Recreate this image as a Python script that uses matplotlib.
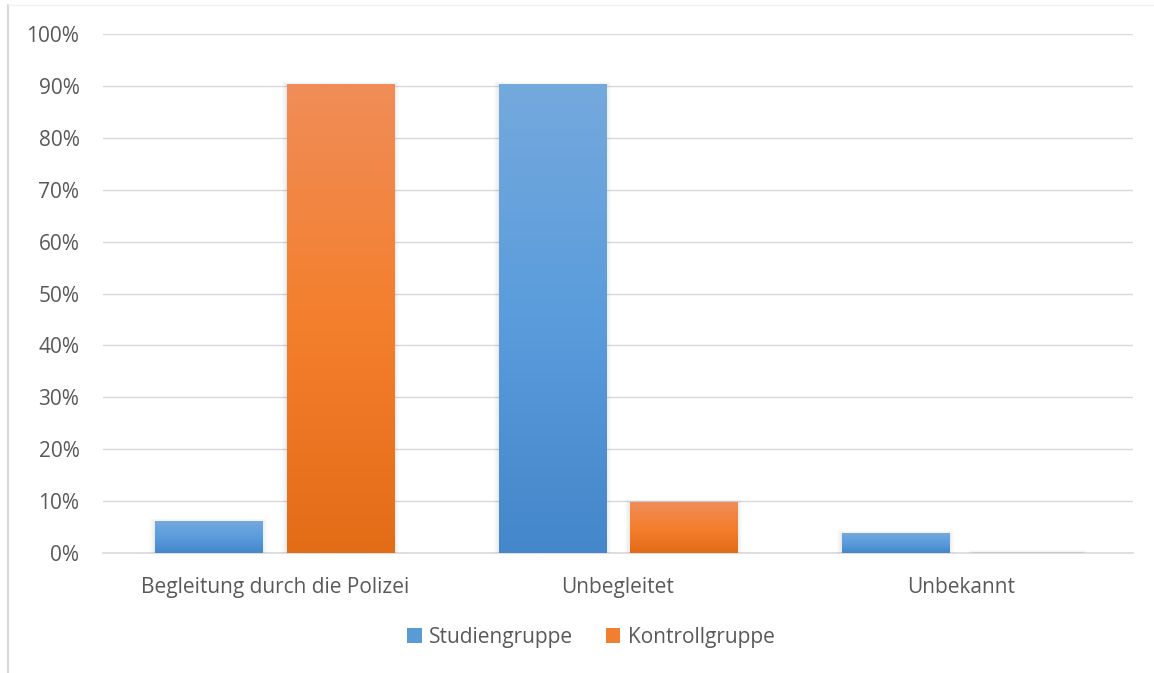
import numpy as np
import matplotlib
matplotlib.use("Agg")
import matplotlib.pyplot as plt
from matplotlib.colors import LinearSegmentedColormap
from matplotlib.patches import Rectangle, Patch
from matplotlib.lines import Line2D
from matplotlib.ticker import PercentFormatter

categories = ["Begleitung durch die Polizei", "Unbegleitet", "Unbekannt"]
series_names = ["Studiengruppe", "Kontrollgruppe"]
studiengruppe = [6.0, 90.2, 3.7]
kontrollgruppe = [90.2, 9.7, 0.0]
y_ticks = [0, 10, 20, 30, 40, 50, 60, 70, 80, 90, 100]

# gradient stops (top, middle, bottom) for each series
blue_stops = ["#74A9DD", "#5A9CDC", "#4487CA"]
orange_stops = ["#F08D58", "#F47F2D", "#E36C17"]
legend_colors = ["#5B9BD5", "#F07F30"]

plt.rcParams["font.family"] = ["Open Sans", "DejaVu Sans"]
text_color = "#595959"
grid_color = "#D9D9D9"

fig = plt.figure(figsize=(11.54, 6.73), dpi=100)
ax = fig.add_axes([103 / 1154, 1 - 553 / 673, 1030 / 1154, 519 / 673])

x = np.arange(len(categories))
width = 0.312
offset = 0.192

ax.set_xlim(-0.5, len(categories) - 0.5)
ax.set_ylim(0, 100)

# pixel -> data scale factors for the soft bar shadow
px_x = 3 / 1030
px_y = 100 / 519


def gradient_bars(positions, values, stops):
    cmap = LinearSegmentedColormap.from_list("g", stops[::-1])
    bars = ax.bar(positions, values, width, color="none", zorder=3)
    grad = np.linspace(0, 1, 256).reshape(-1, 1)
    for b in bars:
        bx, bw, bh = b.get_x(), b.get_width(), b.get_height()
        # soft shadow
        for k in range(1, 6):
            ax.add_patch(Rectangle((bx - k * px_x, 0), bw + 2 * k * px_x,
                                   bh + k * px_y * 0.6, facecolor="#000000",
                                   edgecolor="none", alpha=0.016, zorder=2))
        if bh > 0:
            ax.imshow(grad, cmap=cmap, origin="lower", aspect="auto",
                      extent=[bx, bx + bw, 0, bh], zorder=3,
                      interpolation="bilinear")
    return bars


gradient_bars(x - offset, studiengruppe, blue_stops)
gradient_bars(x + offset, kontrollgruppe, orange_stops)

ax.set_xlim(-0.5, len(categories) - 0.5)
ax.set_ylim(0, 100)

ax.set_yticks(y_ticks)
ax.yaxis.set_major_formatter(PercentFormatter(decimals=0))
ax.set_xticks(x)
ax.set_xticklabels(categories)
ax.tick_params(axis="y", length=0, pad=17, labelsize=15, labelcolor=text_color)
ax.tick_params(axis="x", length=0, pad=17, labelsize=15, labelcolor=text_color)

ax.grid(axis="y", color=grid_color, linewidth=1.0, zorder=0)
ax.set_axisbelow(True)
for s in ["top", "right", "left"]:
    ax.spines[s].set_visible(False)
ax.spines["bottom"].set_color(grid_color)
ax.spines["bottom"].set_linewidth(1.2)
ax.spines["bottom"].set_zorder(1)

handles = [Patch(facecolor=c, edgecolor="none") for c in legend_colors]
fig.legend(handles, series_names, loc="center",
           bbox_to_anchor=(591 / 1154, 1 - 637 / 673), ncol=2, frameon=False,
           fontsize=15, labelcolor=text_color, handlelength=0.7,
           handleheight=0.7, handletextpad=0.35, columnspacing=1.55)

# chart area border
fig.add_artist(Line2D([8 / 1154, 8 / 1154], [0, 1 - 5 / 673],
                      transform=fig.transFigure, color="#D9D9D9", linewidth=1.5))
fig.add_artist(Line2D([8 / 1154, 1], [1 - 5 / 673, 1 - 5 / 673],
                      transform=fig.transFigure, color="#F0F0F0", linewidth=1.0))

fig.savefig("out.png", dpi=100, facecolor="white")
